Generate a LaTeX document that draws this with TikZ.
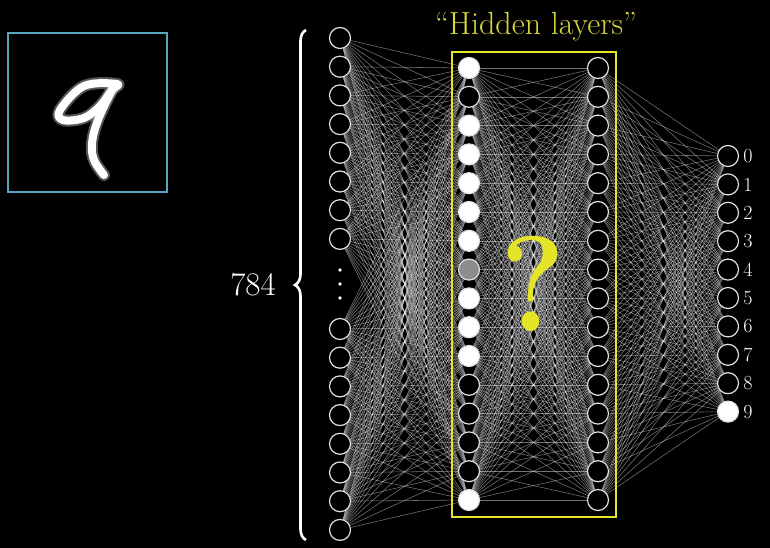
\documentclass[tikz,border=0pt]{standalone}
\usetikzlibrary{backgrounds,decorations.pathreplacing}
\definecolor{hlyellow}{RGB}{228,228,40}
\definecolor{txtyellow}{RGB}{215,215,60}
\definecolor{boxblue}{RGB}{85,165,195}
\begin{document}
\begin{tikzpicture}[x=1pt,y=-1pt,
  neuron/.style={circle,draw=white!88!black,line width=1.2pt,minimum size=21pt,inner sep=0pt,fill=black},
  on/.style={neuron,fill=white},
  mid/.style={neuron,fill=white!55!black},
  link/.style={draw=white,opacity=0.45,line width=0.55pt},
  lab/.style={text=white,font=\fontsize{20}{24}\selectfont,inner sep=0pt}]
\useasboundingbox (0,0) rectangle (770,548);
% input layer
\foreach \i in {0,...,15}{
  \pgfmathsetmacro\yy{\i<8 ? 38+28.7*\i : 329+28.7*(\i-8)}
  \node[neuron] (in\i) at (340,\yy) {};
}
% hidden layer 1
\foreach \s [count=\i from 0] in {on,neuron,on,on,on,on,on,mid,on,on,on,neuron,neuron,neuron,neuron,on}{
  \node[\s] (ha\i) at (469,68+28.8*\i) {};
}
% hidden layer 2
\foreach \i in {0,...,15}{
  \node[neuron] (hb\i) at (598,68+28.8*\i) {};
}
% output layer
\foreach \i in {0,...,9}{
  \pgfmathsetmacro\yy{156+28.4*\i}
  \ifnum\i=9
    \node[on] (o\i) at (728,\yy) {};
  \else
    \node[neuron] (o\i) at (728,\yy) {};
  \fi
  \node[lab] (l\i) at (748,\yy) {\i};
}
\begin{pgfonlayer}{background}
  \fill[black] (0,0) rectangle (770,548);
  \foreach \i in {0,...,15}{
    \foreach \j in {0,...,15}{
      \draw[link] (in\i) -- (ha\j);
      \draw[link] (ha\i) -- (hb\j);
    }
    \foreach \k in {0,...,9}{
      \draw[link] (hb\i) -- (o\k);
    }
  }
\end{pgfonlayer}
% dots
\foreach \yy [count=\d] in {270,284,298}{
  \fill[white] (340,\yy) circle (1.8) coordinate (dot\d);
}
% brace and 784
\coordinate (bb) at (306,540);
\coordinate (bt) at (306,30);
\draw[white,line width=2.6pt,decorate,decoration={brace,amplitude=11pt}] (bb) -- (bt);
\node[text=white,font=\fontsize{33}{40}\selectfont] (n784) at (253,285) {784};
% hidden box
\draw[hlyellow,line width=2.6pt] (452,52) rectangle (616,517);
\node[text=txtyellow,font=\fontsize{32}{38}\selectfont,anchor=base] (title) at (536,35) {``Hidden layers''};
\node[text=hlyellow,font=\fontsize{136}{146}\selectfont\bfseries] (qm) at (533,284) {\scalebox{0.9}[1]{?}};
% input image
\draw[boxblue,line width=1.8pt] (8,33) rectangle (167,192);
\begin{scope}[line cap=round,line join=round]
  \draw[white!55!black,line width=12pt,opacity=0.6] plot[smooth cycle,tension=0.6] coordinates {(117,84) (84,86) (60,110) (63,120) (84,118) (100,106) (112,90)};
  \draw[white!55!black,line width=12pt,opacity=0.6] plot[smooth,tension=0.6] coordinates {(112,90) (98,120) (92,143) (94,160) (104,175)};
  \draw[white,line width=8pt] plot[smooth cycle,tension=0.6] coordinates {(117,84) (84,86) (60,110) (63,120) (84,118) (100,106) (112,90)};
  \draw[white,line width=8pt] plot[smooth,tension=0.6] coordinates {(112,90) (98,120) (92,143) (94,160) (104,175)};
\end{scope}
\end{tikzpicture}
\end{document}
